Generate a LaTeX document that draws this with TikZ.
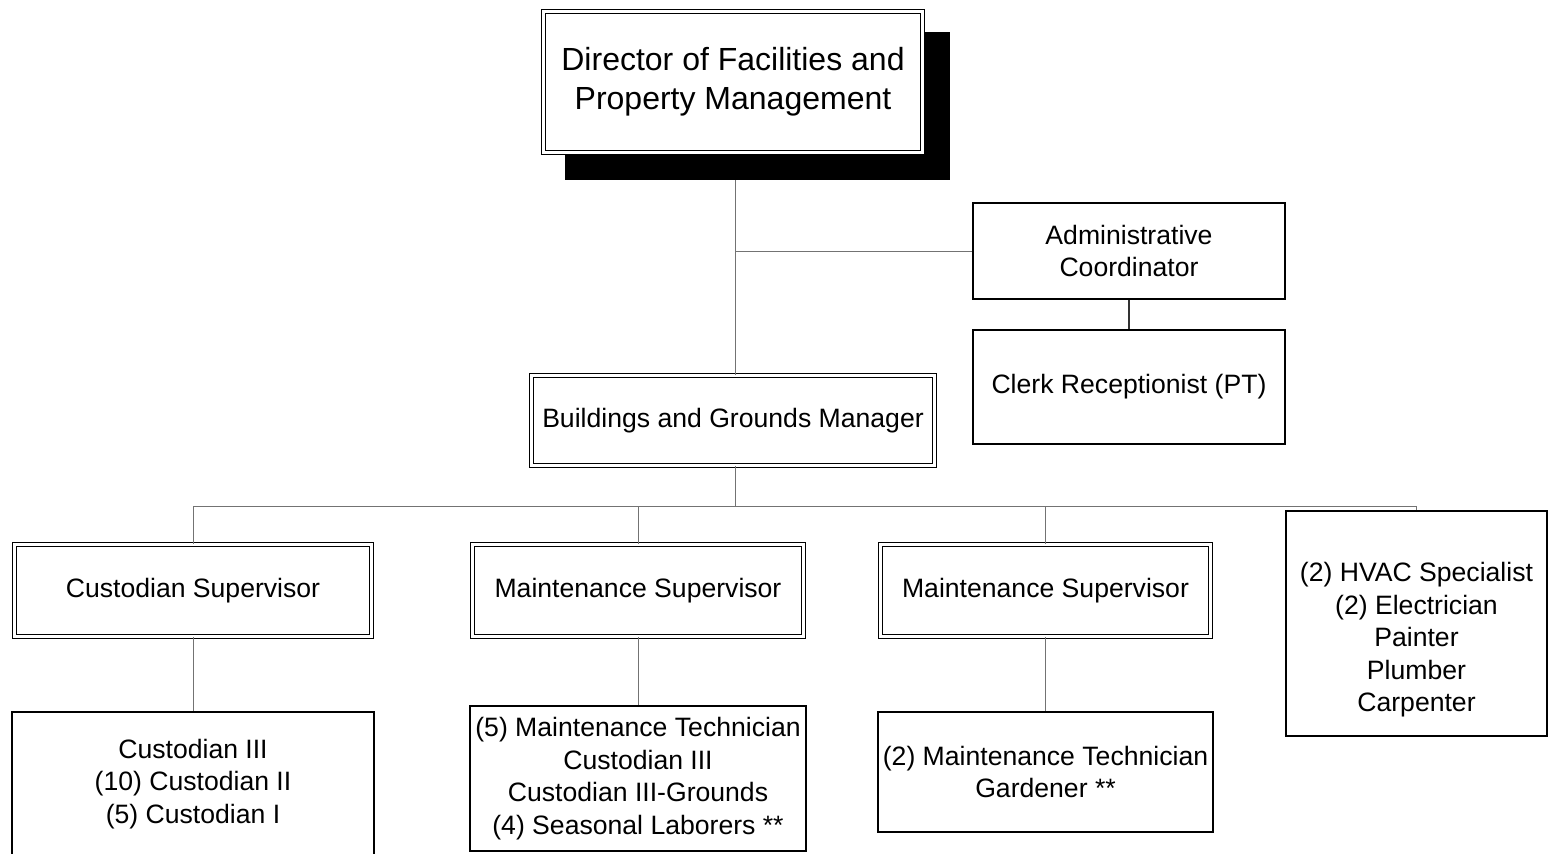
\documentclass[tikz,border=0pt]{standalone}
\usepackage{fontspec}
\setmainfont{Liberation Sans}
\begin{document}
\begin{tikzpicture}[x=1pt,y=-1pt,
  dbox/.style={draw=black, double=white, line width=1.5pt, double distance=2.2pt, fill=white,
    inner sep=0pt, align=center, font=\fontsize{26.6}{32.5}\selectfont},
  sbox/.style={draw=black, line width=1.5pt, fill=white, inner sep=0pt, align=center,
    font=\fontsize{26.6}{32.5}\selectfont},
  txt/.style={inner sep=0pt, align=center, font=\fontsize{26.6}{32.5}\selectfont},
  conn/.style={draw=black!55, line width=1pt}]
\useasboundingbox (0,0) rectangle (1548,854);
\clip (0,0) rectangle (1548,854);
\fill[white] (0,0) rectangle (1548,854);
% shadow and director
\node[fill=black, inner sep=0pt, minimum width=385pt, minimum height=148pt] (shadow) at (757.5,106) {};
\node[dbox, minimum width=379pt, minimum height=141pt, font=\fontsize{32}{39}\selectfont] (dir) at (733,82)
  {Director of Facilities and\\Property Management};
% admin and clerk
\node[sbox, minimum width=312pt, minimum height=96pt] (admin) at (1129,251) {Administrative\\Coordinator};
\node[sbox, minimum width=312pt, minimum height=114pt] (clerk) at (1129,387) {Clerk Receptionist (PT)};
% manager
\node[dbox, minimum width=403pt, minimum height=90pt] (bgm) at (733,420.5) {Buildings and Grounds Manager};
% supervisors
\node[dbox, minimum width=357pt, minimum height=92pt] (cs) at (193,590.5) {Custodian Supervisor};
\node[dbox, minimum width=331pt, minimum height=92pt] (ms1) at (638,590.5) {Maintenance Supervisor};
\node[dbox, minimum width=330pt, minimum height=92pt] (ms2) at (1045.5,590.5) {Maintenance Supervisor};
% trades box
\node[sbox, minimum width=261pt, minimum height=225pt] (hvac) at (1416.5,623.5) {};
\node[txt] (hvactext) at (1416.5,640) {(2) HVAC Specialist\\(2) Electrician\\Painter\\Plumber\\Carpenter};
% staff boxes
\node[sbox, minimum width=362pt, minimum height=144pt] (c3) at (193,784) {Custodian III\\(10) Custodian II\\(5) Custodian I};
\node[sbox, minimum width=336pt, minimum height=145pt] (mt1) at (638,778.5) {(5) Maintenance Technician\\Custodian III\\Custodian III-Grounds\\(4) Seasonal Laborers **};
\node[sbox, minimum width=335pt, minimum height=120pt] (mt2) at (1045.5,772) {(2) Maintenance Technician\\Gardener **};
% connectors
\coordinate (j1) at (735,251);
\coordinate (bus) at (735,506);
\draw[conn] (shadow.south -| j1) -- (bgm.north -| j1);
\draw[conn] (j1) -- (admin.west);
\draw[conn, line width=1.5pt, draw=black!80] (admin.south) -- (clerk.north);
\draw[conn] (bgm.south -| bus) -- (bus);
\draw[conn] (cs.north) -- (cs.north |- bus) -- (hvac.north |- bus) -- (hvac.north);
\draw[conn] (ms1.north |- bus) -- (ms1.north);
\draw[conn] (ms2.north |- bus) -- (ms2.north);
\draw[conn] (cs.south) -- (c3.north);
\draw[conn] (ms1.south) -- (mt1.north);
\draw[conn] (ms2.south) -- (mt2.north);
\end{tikzpicture}
\end{document}
